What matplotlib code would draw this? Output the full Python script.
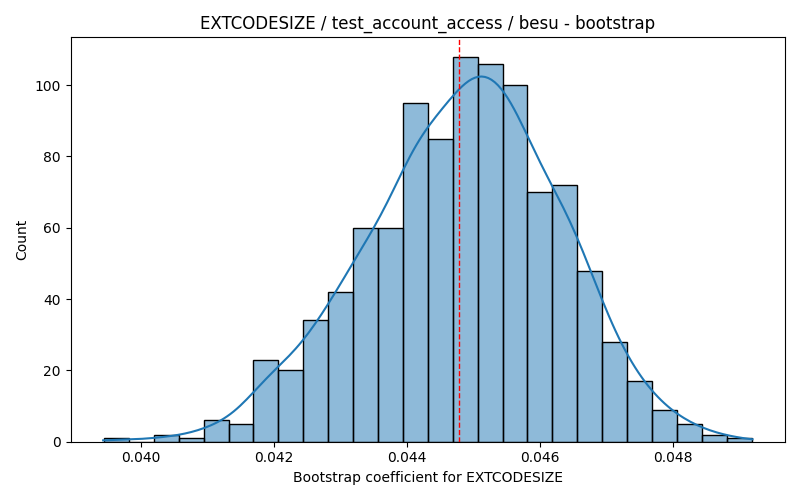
import numpy as np
import pandas as pd
import matplotlib
matplotlib.use("Agg")
import matplotlib.pyplot as plt
import seaborn as sns

# bootstrap histogram counts (26 bins)
counts = [1, 0, 2, 1, 6, 5, 23, 20, 34, 42, 60, 60, 95,
          85, 108, 106, 100, 70, 72, 48, 28, 17, 9, 5, 2, 1]
bin_lo = 0.03944
bin_hi = 0.04918
point_est = 0.04478

edges = np.linspace(bin_lo, bin_hi, len(counts) + 1)
centers = (edges[:-1] + edges[1:]) / 2
df = pd.DataFrame({"coef": centers, "n": counts})

fig, ax = plt.subplots(figsize=(8, 5), dpi=100)
# weighted kde sees only ~14 effective points, so shrink bw to match n=1000
sns.histplot(data=df, x="coef", weights="n", bins=len(counts),
             binrange=(bin_lo, bin_hi), kde=True,
             kde_kws={"cut": 0.32, "bw_adjust": 0.42}, ax=ax)
ax.axvline(point_est, color="red", linestyle="--", linewidth=1)
ax.set_title("EXTCODESIZE / test_account_access / besu - bootstrap")
ax.set_xlabel("Bootstrap coefficient for EXTCODESIZE")
ax.set_ylabel("Count")
plt.tight_layout()
plt.savefig("out.png")
